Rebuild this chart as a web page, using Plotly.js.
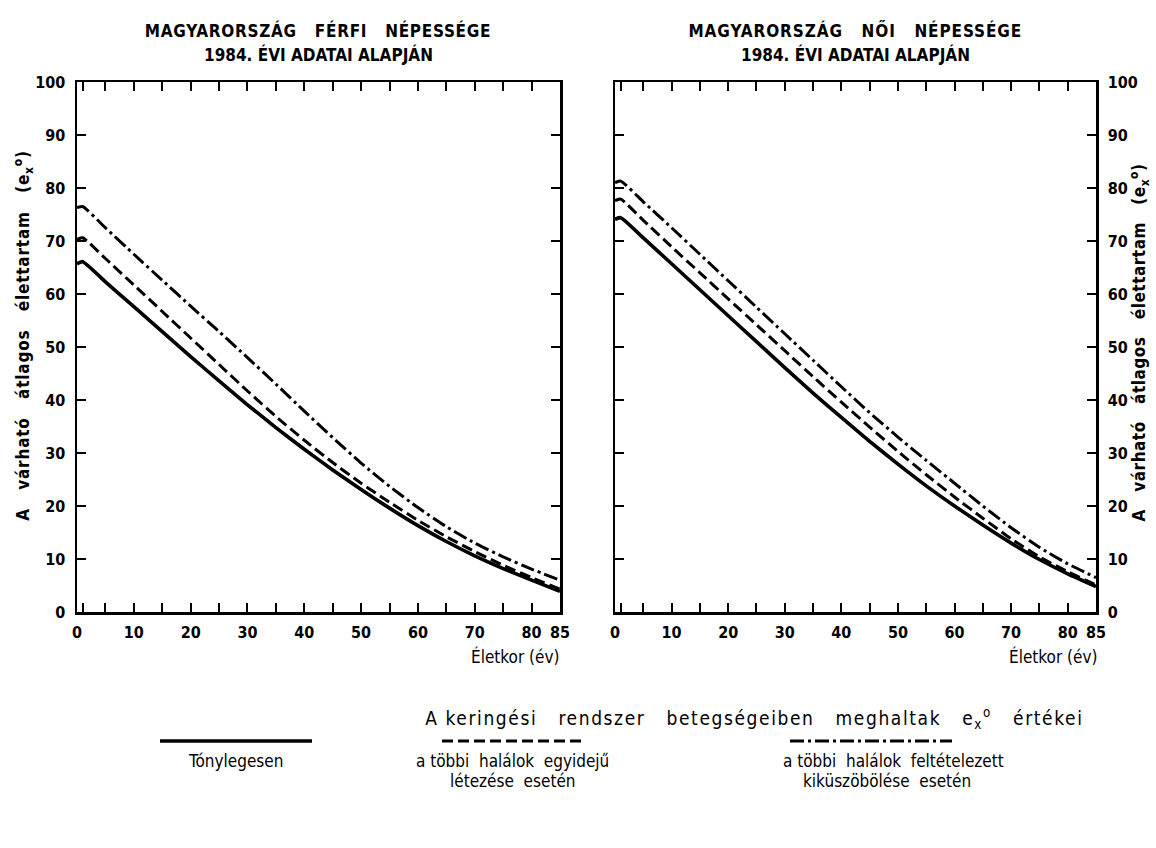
<!DOCTYPE html>
<html>
<head>
<meta charset="utf-8">
<script src="https://cdn.plot.ly/plotly-3.0.1.min.js"></script>
<style>
  html, body { margin: 0; padding: 0; background: #fff; }
  #chart { width: 1156px; height: 848px; }
</style>
</head>
<body>
<div id="chart"></div>
<script>
// ---- Data ----
const ages = [0, 1, 5, 10, 15, 20, 25, 30, 35, 40, 45, 50, 55, 60, 65, 70, 75, 80, 85];

// Férfi (male) panel
const maleActual     = [65.7, 66.1, 62.3, 57.6, 52.9, 48.2, 43.6, 39.1, 34.8, 30.7, 26.8, 23.1, 19.6, 16.3, 13.3, 10.6, 8.2, 6.0, 3.9];
const maleCoexist    = [70.3, 70.6, 66.7, 61.7, 56.7, 51.7, 46.7, 41.7, 36.9, 32.4, 28.2, 24.3, 20.7, 17.3, 14.2, 11.4, 8.8, 6.5, 4.3];
const maleEliminated = [76.3, 76.5, 72.5, 67.5, 62.6, 57.7, 52.9, 48.0, 43.0, 37.9, 32.9, 28.1, 23.7, 19.7, 16.1, 13.0, 10.4, 8.1, 6.0];

// Női (female) panel
const femaleActual     = [74.1, 74.4, 70.6, 65.7, 60.8, 55.9, 51.0, 46.1, 41.3, 36.7, 32.2, 27.9, 23.8, 20.0, 16.4, 13.0, 9.9, 7.2, 4.8];
const femaleCoexist    = [77.6, 77.9, 73.9, 68.9, 64.0, 59.1, 54.2, 49.3, 44.4, 39.6, 34.9, 30.3, 25.9, 21.7, 17.7, 13.8, 10.4, 7.6, 5.1];
const femaleEliminated = [81.0, 81.3, 77.4, 72.5, 67.5, 62.5, 57.5, 52.5, 47.5, 42.5, 37.6, 33.0, 28.6, 24.3, 20.0, 15.9, 12.2, 9.1, 6.5];

// Tick marks and labels
const xLabelVals = [0, 10, 20, 30, 40, 50, 60, 70, 80, 85];
const xMinorVals = [1, 5, 15, 25, 35, 45, 55, 65, 75];
const yTickVals = [0, 10, 20, 30, 40, 50, 60, 70, 80, 90, 100];

// Texts
const G2 = '\u00a0 ';
const G3 = '\u00a0\u00a0 ';
const titleMaleL1 = 'MAGYARORSZÁG' + G3 + 'FÉRFI' + G3 + 'NÉPESSÉGE';
const titleMaleL2 = '1984. ÉVI ADATAI ALAPJÁN';
const titleFemaleL1 = 'MAGYARORSZÁG' + G3 + 'NŐI' + G3 + 'NÉPESSÉGE';
const titleFemaleL2 = '1984. ÉVI ADATAI ALAPJÁN';
const yTitle = ['A', 'várható', 'átlagos', 'élettartam', '(e<sub>x</sub><sup>o</sup>)'].join(G3);
const xTitle = 'Életkor (év)';
const legendHeading = ['A keringési', 'rendszer', 'betegségeiben', 'meghaltak', 'e<sub>x</sub><sup>o</sup>', 'értékei'].join(G3);
const legSolid = 'Tónylegesen';
const legDash1 = 'a többi' + G2 + 'halálok' + G2 + 'egyidejű';
const legDash2 = 'létezése' + G2 + 'esetén';
const legDot1 = 'a többi' + G2 + 'halálok' + G2 + 'feltételezett';
const legDot2 = 'kiküszöbölése' + G2 + 'esetén';

// ---- Styling ----
const FONT = '"DejaVu Sans Condensed", "Liberation Sans Narrow", "DejaVu Sans", sans-serif';
const solidLine = {color: '#000', width: 3.6, shape: 'spline', smoothing: 0.5};
const dashLine  = {color: '#000', width: 3, dash: '11px,5px', shape: 'spline', smoothing: 0.5};
const dotLine   = {color: '#000', width: 3, dash: '14px,4px,3px,4px', shape: 'spline', smoothing: 0.5};

function tr(y, xa, ya, line, name) {
  return {x: ages, y: y, xaxis: xa, yaxis: ya, mode: 'lines', line: line, name: name,
          showlegend: false, hoverinfo: 'skip'};
}

const traces = [
  tr(maleEliminated, 'x', 'y', dotLine, 'kiküszöbölés'),
  tr(maleCoexist, 'x', 'y', dashLine, 'egyidejű'),
  tr(maleActual, 'x', 'y', solidLine, 'tényleges'),
  tr(femaleEliminated, 'x2', 'y2', dotLine, 'kiküszöbölés'),
  tr(femaleCoexist, 'x2', 'y2', dashLine, 'egyidejű'),
  tr(femaleActual, 'x2', 'y2', solidLine, 'tényleges')
];

const axBase = {
  showline: true, linecolor: '#000', linewidth: 2.5, mirror: 'ticks',
  ticks: 'inside', ticklen: 9, tickwidth: 2, tickcolor: '#000',
  showgrid: false, zeroline: false, fixedrange: true,
  tickfont: {family: FONT, size: 16, color: '#000', weight: 'bold'}
};

const xBase = Object.assign({}, axBase, {
  range: [0, 85], tickmode: 'array', tickvals: xLabelVals, ticktext: xLabelVals.map(String),
  tickangle: 0, ticklabelstandoff: 4,
  minor: {tickmode: 'array', tickvals: xMinorVals, ticks: 'inside', ticklen: 9, tickwidth: 2, tickcolor: '#000', showgrid: false}
});
const yBase = Object.assign({}, axBase, {range: [0, 100], tickmode: 'array', tickvals: yTickVals, ticktext: yTickVals.map(String), tickangle: 0, ticklabelstandoff: 6});

// plot geometry (pixels): left panel 77-560, right panel 615-1096, y 82-612
const L = 77, R = 60, T = 82, B = 236;
const W = 1156 - L - R, H = 848 - T - B;
const px = X => (X - L) / W;
const py = Y => (T + H - Y) / H;

const layout = {
  width: 1156, height: 848,
  margin: {l: L, r: R, t: T, b: B, pad: 0},
  paper_bgcolor: '#fff', plot_bgcolor: '#fff',
  showlegend: false,
  xaxis: Object.assign({}, xBase, {domain: [0, px(560)], anchor: 'y'}),
  yaxis: Object.assign({}, yBase, {domain: [0, 1], anchor: 'x', side: 'left'}),
  xaxis2: Object.assign({}, xBase, {domain: [px(615), 1], anchor: 'y2'}),
  yaxis2: Object.assign({}, yBase, {domain: [0, 1], anchor: 'x2', side: 'right'}),
  annotations: [],
  shapes: []
};

const spacing = {};  // annotation index -> letter spacing (px)
function ann(text, x, y, opts, ls) {
  layout.annotations.push(Object.assign({
    text: text, x: x, y: y, xref: 'paper', yref: 'paper', showarrow: false,
    xanchor: 'center', yanchor: 'middle',
    font: {family: FONT, size: 17, color: '#000'}
  }, opts || {}));
  const i = layout.annotations.length - 1;
  if (ls) spacing[i] = ls;
  return i;
}

// Panel titles
const tf = {family: FONT, size: 17, color: '#000'};
ann('<b>' + titleMaleL1 + '</b>', px(318), py(30), {font: tf}, 0.7);
ann('<b>' + titleMaleL2 + '</b>', px(318), py(55), {font: tf});
ann('<b>' + titleFemaleL1 + '</b>', px(855), py(30), {font: tf}, 0.9);
ann('<b>' + titleFemaleL2 + '</b>', px(855), py(55), {font: tf});

// Y titles
ann('<b>' + yTitle + '</b>', px(23), py(336), {textangle: -90, font: {family: FONT, size: 17, color: '#000'}}, 0.8);
ann('<b>' + yTitle + '</b>', px(1139), py(343), {textangle: -90, font: {family: FONT, size: 17, color: '#000'}}, 0.5);

// X titles
ann(xTitle, px(561), py(656), {xanchor: 'right'});
ann(xTitle, px(1099), py(656), {xanchor: 'right'});

// Legend
ann(legendHeading, px(754), py(718), {font: {family: FONT, size: 19, color: '#000'}}, 1.6);
ann(legSolid, px(235), py(761));
ann(legDash1, px(512), py(761));
ann(legDash2, px(513), py(781));
ann(legDot1, px(893), py(761));
ann(legDot2, px(887), py(781));

function legLine(x0, x1, line) {
  layout.shapes.push({type: 'line', xref: 'paper', yref: 'paper',
    x0: px(x0), x1: px(x1), y0: py(741), y1: py(741), line: line});
}
legLine(160, 312, {color: '#000', width: 3.6});
legLine(442, 582, {color: '#000', width: 3, dash: '11px,5px'});
legLine(790, 952, {color: '#000', width: 3, dash: '14px,4px,3px,4px'});

Plotly.newPlot('chart', traces, layout, {staticPlot: true, displayModeBar: false}).then(function () {
  // wider letter spacing, as in the stencil lettering of the original
  Object.keys(spacing).forEach(function (i) {
    const t = document.querySelector('#chart .annotation[data-index="' + i + '"] text.annotation-text');
    if (t) t.style.letterSpacing = spacing[i] + 'px';
  });
});
</script>
</body>
</html>
